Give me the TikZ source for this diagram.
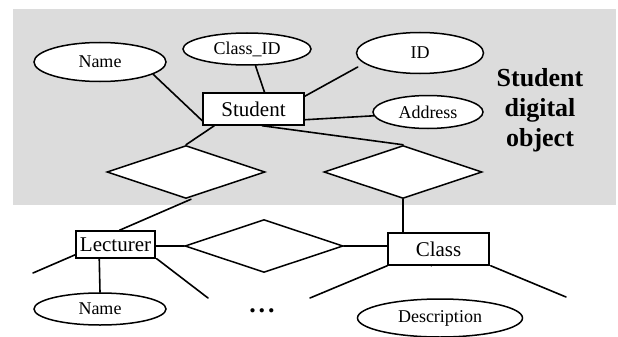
\documentclass[tikz,border=0pt]{standalone}
\usepackage{fontspec}
\setmainfont{Liberation Serif}
\usetikzlibrary{shapes.geometric,calc}
\definecolor{bggray}{RGB}{220,220,220}
\begin{document}
\begin{tikzpicture}[x=1pt,y=-1pt,
  ln/.style={line width=1.6pt, line cap=round},
  attr/.style={ellipse, draw, line width=1.5pt, fill=white, inner sep=0pt,
    font=\fontsize{18}{20}\selectfont},
  ent/.style={rectangle, draw, line width=1.5pt, fill=white, inner sep=0pt,
    font=\fontsize{21}{23}\selectfont},
  rel/.style={diamond, draw, line width=1.5pt, fill=white, inner sep=0pt,
    minimum width=158pt, minimum height=53pt}]
\useasboundingbox (0,0) rectangle (618,337);
\fill[bggray] (13,9) rectangle (616,205);

% nodes
\node[ent, minimum width=101pt, minimum height=32pt] (stu) at (253.5,109) {Student};
\node[attr, minimum width=132pt, minimum height=39pt] (nm1) at (100,62) {Name};
\node[attr, minimum width=128pt, minimum height=32pt] (cid) at (247,49) {Class\_ID};
\node[attr, minimum width=127pt, minimum height=41pt] (id) at (420,53) {ID};
\node[attr, minimum width=110pt, minimum height=33pt] (adr) at (428,112) {Address};
\node[rel] (l1) at (186,172) {};
\node[rel] (r1) at (403,172) {};
\node[rel] (mid) at (264,246) {};
\node[ent, minimum width=79pt, minimum height=27pt] (lec) at (115.5,244.5) {Lecturer};
\node[ent, minimum width=101pt, minimum height=32pt] (cls) at (438.5,249) {Class};
\node[attr, minimum width=132pt, minimum height=32pt] (nm2) at (100,309) {Name};
\node[attr, minimum width=165pt, minimum height=38pt] (desc) at (440,318) {Description};
\node[font=\fontsize{26}{30}\selectfont\bfseries, align=center, inner sep=0pt] (title) at (540,110) {Student\\digital\\object};
\node[font=\fontsize{26}{28}\selectfont\bfseries, inner sep=0pt] (dots) at (262,311) {.\hspace{3pt}.\hspace{3pt}.};

% free ends
\coordinate (f1) at (33,273);
\coordinate (f2) at (208,298);
\coordinate (f3) at (310,298);
\coordinate (f4) at (566,297);

% connectors
\draw[ln] (nm1.-13) -- ($(stu.south west)+(0,-5)$);
\draw[ln] (cid.-63) -- ($(stu.north)+(11,0)$);
\draw[ln] ($(id.west)+(2,14)$) -- ($(stu.north east)+(0,4)$);
\draw[ln] (adr.184) -- ($(stu.south east)+(0,-6)$);
\draw[ln] ($(stu.south west)+(12,0)$) -- (l1.north);
\draw[ln] ($(stu.south west)+(60,0)$) -- (r1.north);
\draw[ln] ($(l1.south)+(5,0)$) -- ($(lec.north)+(4,0)$);
\draw[ln] (r1.south) -- (r1.south |- cls.north);
\draw[ln] (mid.west) -- (mid.west -| lec.east);
\draw[ln] (mid.east) -- (mid.east -| cls.west);
\draw[ln] ($(lec.south west)+(0,-4)$) -- (f1);
\draw[ln] ($(lec.south west)+(24,0)$) -- (nm2.north);
\draw[ln] ($(lec.south east)+(1,0)$) -- (f2);
\draw[ln] (cls.south west) -- (f3);
\draw[ln] ($(cls.south west)+(44,0)$) -- ($(cls.south west)+(44,0)$ |- desc.north);
\draw[ln] ($(cls.south east)+(1,0)$) -- (f4);
\end{tikzpicture}
\end{document}
